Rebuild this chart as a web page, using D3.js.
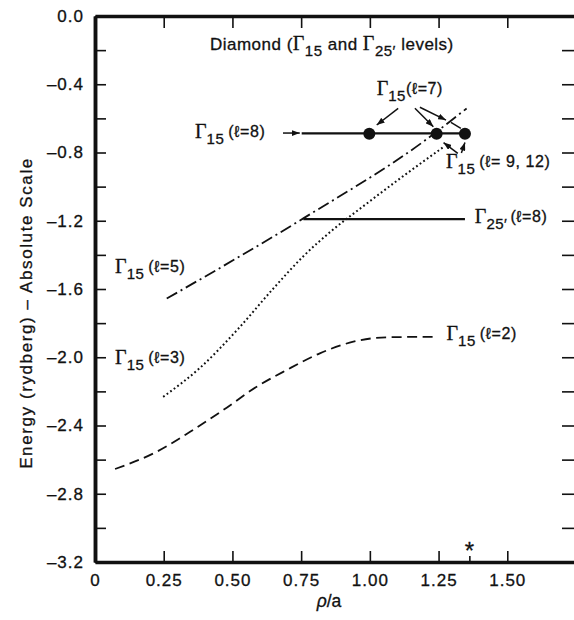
<!DOCTYPE html>
<html>
<head>
<meta charset="utf-8">
<script src="https://cdn.jsdelivr.net/npm/d3@7/dist/d3.min.js"></script>
<style>
  body { margin: 0; background: #fff; }
  text { font-family: "Liberation Sans", Arial, sans-serif; fill: #111; stroke: #111; stroke-width: 0.3; }
</style>
</head>
<body>
<div id="chart"></div>
<script>
// axis ticks
const xTicks = [0, 0.25, 0.5, 0.75, 1.0, 1.25, 1.5];
const xTickLabels = ["0", "0.25", "0.50", "0.75", "1.00", "1.25", "1.50"];
const xTopTicks = [0.25, 0.5, 0.75, 1.0, 1.25, 1.5];
const yMajor = [0, -0.4, -0.8, -1.2, -1.6, -2.0, -2.4, -2.8, -3.2];
const yMajorLabels = ["0.0", "–0.4", "–0.8", "–1.2", "–1.6", "–2.0", "–2.4", "–2.8", "–3.2"];
const yMinor = [-0.2, -0.6, -1.0, -1.4, -1.8, -2.2, -2.6, -3.0];
const yRightTicks = [-0.2, -0.4, -0.6, -0.8, -1.0, -1.2, -1.4, -1.6, -1.8, -2.0, -2.2, -2.4, -2.6, -2.8, -3.0];

// curves  [rho/a, energy]
const gamma15L2 = [[0.073, -2.655], [0.224, -2.554], [0.346, -2.437], [0.467, -2.309], [0.588, -2.173],
                   [0.697, -2.075], [0.818, -1.977], [0.940, -1.909], [1.061, -1.883], [1.231, -1.880]];
const gamma15L3 = [[0.248, -2.232], [0.38, -2.065], [0.52, -1.835], [0.65, -1.595], [0.76, -1.405],
                   [0.86, -1.26], [0.98, -1.11], [1.12, -0.94], [1.266, -0.77]];
const gamma15L5 = [[0.261, -1.656], [0.758, -1.186], [1.194, -0.737], [1.352, -0.542]];

// flat levels
const gamma25L8 = [[0.758, -1.19], [1.346, -1.19]];
const gamma15L8 = [[0.752, -0.688], [1.353, -0.688]];
const gamma15Dots = [[0.998, -0.69], [1.243, -0.69], [1.346, -0.69]];
const starTick = 1.362;

// annotation arrows [x1, y1, x2, y2] in data units
const arrows = [
  [0.684, -0.686, 0.745, -0.686],
  [1.103, -0.541, 1.025, -0.639],
  [1.164, -0.541, 1.231, -0.649],
  [1.182, -0.535, 1.277, -0.610],
  [1.320, -0.805, 1.268, -0.742],
  [1.333, -0.803, 1.346, -0.742]
];
const plainSegs = [[1.295, -0.624, 1.331, -0.659]];

const width = 574, height = 620;
const svg = d3.select("#chart").append("svg")
  .attr("width", width).attr("height", height);

const x = d3.scaleLinear().domain([0, 1.75]).range([95, 576]);
const y = d3.scaleLinear().domain([0, -3.2]).range([16, 562]);

svg.append("defs").append("marker")
  .attr("id", "head")
  .attr("viewBox", "0 0 8 6")
  .attr("refX", 8).attr("refY", 3)
  .attr("markerWidth", 8).attr("markerHeight", 6)
  .attr("markerUnits", "userSpaceOnUse")
  .attr("orient", "auto")
  .append("path").attr("d", "M0,0 L8,3 L0,6 Z").attr("fill", "#111");

function styleAxis(g) {
  g.select(".domain").attr("stroke", "#111").attr("stroke-width", 3.5);
  g.selectAll(".tick line").attr("stroke", "#111").attr("stroke-width", 1.6);
  g.selectAll(".tick text")
    .attr("font-family", "Liberation Sans, Arial, sans-serif")
    .attr("font-size", 17).attr("letter-spacing", 1).attr("fill", "#111");
}

// left axis
svg.append("g").attr("transform", `translate(${x(0)},0)`)
  .call(d3.axisLeft(y).tickValues(yMajor).tickSizeInner(-11).tickSizeOuter(0).tickPadding(11)
    .tickFormat((d, i) => yMajorLabels[i]))
  .call(styleAxis);
svg.append("g").attr("transform", `translate(${x(0)},0)`)
  .call(d3.axisLeft(y).tickValues(yMinor).tickSizeInner(-11).tickSizeOuter(0).tickFormat(""))
  .call(styleAxis);

// right axis
svg.append("g").attr("transform", `translate(${x(1.75)},0)`)
  .call(d3.axisRight(y).tickValues(yRightTicks).tickSizeInner(-14).tickSizeOuter(0).tickFormat(""))
  .call(styleAxis);

// bottom axis
svg.append("g").attr("transform", `translate(0,${y(-3.2)})`)
  .call(d3.axisBottom(x).tickValues(xTicks).tickSizeInner(-11).tickSizeOuter(0).tickPadding(12)
    .tickFormat((d, i) => xTickLabels[i]))
  .call(styleAxis);
svg.append("g").attr("transform", `translate(0,${y(-3.2)})`)
  .call(d3.axisBottom(x).tickValues([starTick]).tickSizeInner(-6).tickSizeOuter(0).tickFormat(""))
  .call(styleAxis)
  .select(".domain").remove();

// top axis
svg.append("g").attr("transform", `translate(0,${y(0)})`)
  .call(d3.axisTop(x).tickValues(xTopTicks).tickSizeInner(-12).tickSizeOuter(0).tickFormat(""))
  .call(styleAxis);

svg.append("text")
  .attr("x", x(starTick)).attr("y", y(-3.2) - 3)
  .attr("text-anchor", "middle").attr("font-size", 24).text("*");

// axis titles
svg.append("text")
  .attr("transform", "translate(32,313) rotate(-90)")
  .attr("text-anchor", "middle").attr("font-size", 17).attr("letter-spacing", 1.6)
  .text("Energy (rydberg) – Absolute Scale");

const xt = svg.append("text").attr("x", 329).attr("y", 607)
  .attr("text-anchor", "middle").attr("font-size", 17.5);
xt.append("tspan").attr("font-style", "italic").text("ρ");
xt.append("tspan").text("/a");

// curves
const line = d3.line().x(d => x(d[0])).y(d => y(d[1])).curve(d3.curveMonotoneX);

svg.append("path").datum(gamma15L2).attr("d", line)
  .attr("fill", "none").attr("stroke", "#111").attr("stroke-width", 1.8)
  .attr("stroke-dasharray", "10,5.5");
svg.append("path").datum(gamma15L3).attr("d", line)
  .attr("fill", "none").attr("stroke", "#111").attr("stroke-width", 2)
  .attr("stroke-dasharray", "1.8,2.6");
svg.append("path").datum(gamma15L5).attr("d", line)
  .attr("fill", "none").attr("stroke", "#111").attr("stroke-width", 1.8)
  .attr("stroke-dasharray", "12,4,2,4");

const flat = d3.line().x(d => x(d[0])).y(d => y(d[1]));
[gamma25L8, gamma15L8].forEach(lv => {
  svg.append("path").datum(lv).attr("d", flat)
    .attr("fill", "none").attr("stroke", "#111").attr("stroke-width", 2.3);
});

svg.selectAll("circle.dot").data(gamma15Dots).enter().append("circle")
  .attr("class", "dot")
  .attr("cx", d => x(d[0])).attr("cy", d => y(d[1])).attr("r", 6)
  .attr("fill", "#111");

// arrows
svg.selectAll("line.arrow").data(arrows).enter().append("line")
  .attr("class", "arrow")
  .attr("x1", d => x(d[0])).attr("y1", d => y(d[1]))
  .attr("x2", d => x(d[2])).attr("y2", d => y(d[3]))
  .attr("stroke", "#111").attr("stroke-width", 1.5)
  .attr("marker-end", "url(#head)");
svg.selectAll("line.seg").data(plainSegs).enter().append("line")
  .attr("class", "seg")
  .attr("x1", d => x(d[0])).attr("y1", d => y(d[1]))
  .attr("x2", d => x(d[2])).attr("y2", d => y(d[3]))
  .attr("stroke", "#111").attr("stroke-width", 1.5);

// labels: Gamma with subscript and (l=..)
function gammaLabel(xv, yv, sub, paren, gap) {
  const t = svg.append("text").attr("x", x(xv)).attr("y", y(yv));
  t.append("tspan").attr("font-family", "Liberation Serif, Times New Roman, serif")
    .attr("font-size", 20).text("Γ");
  t.append("tspan").attr("font-size", 15).attr("dy", 6).attr("letter-spacing", 0.5).text(sub);
  t.append("tspan").attr("font-size", 16).attr("dy", -7).attr("dx", gap)
    .attr("letter-spacing", 0.6).text(paren);
}
gammaLabel(0.364, -0.715, "15", "(ℓ=8)", 4);
gammaLabel(1.025, -0.463, "15", "(ℓ=7)", 0);
gammaLabel(1.277, -0.891, "15", "(ℓ= 9, 12)", 4);
gammaLabel(1.382, -1.213, "25′", "(ℓ=8)", 3);
gammaLabel(0.073, -1.508, "15", "(ℓ=5)", 4);
gammaLabel(0.073, -2.037, "15", "(ℓ=3)", 4);
gammaLabel(1.279, -1.899, "15", "(ℓ=2)", 4);

// title
const title = svg.append("text").attr("x", x(0.418)).attr("y", y(-0.199))
  .attr("font-size", 17).attr("letter-spacing", 0.5);
title.append("tspan").text("Diamond (");
title.append("tspan").attr("font-family", "Liberation Serif, serif").attr("font-size", 20).text("Γ");
title.append("tspan").attr("font-size", 15).attr("dy", 6).text("15");
title.append("tspan").attr("dy", -6).text(" and ");
title.append("tspan").attr("font-family", "Liberation Serif, serif").attr("font-size", 20).text("Γ");
title.append("tspan").attr("font-size", 15).attr("dy", 6).text("25′");
title.append("tspan").attr("dy", -6).text(" levels)");
</script>
</body>
</html>
